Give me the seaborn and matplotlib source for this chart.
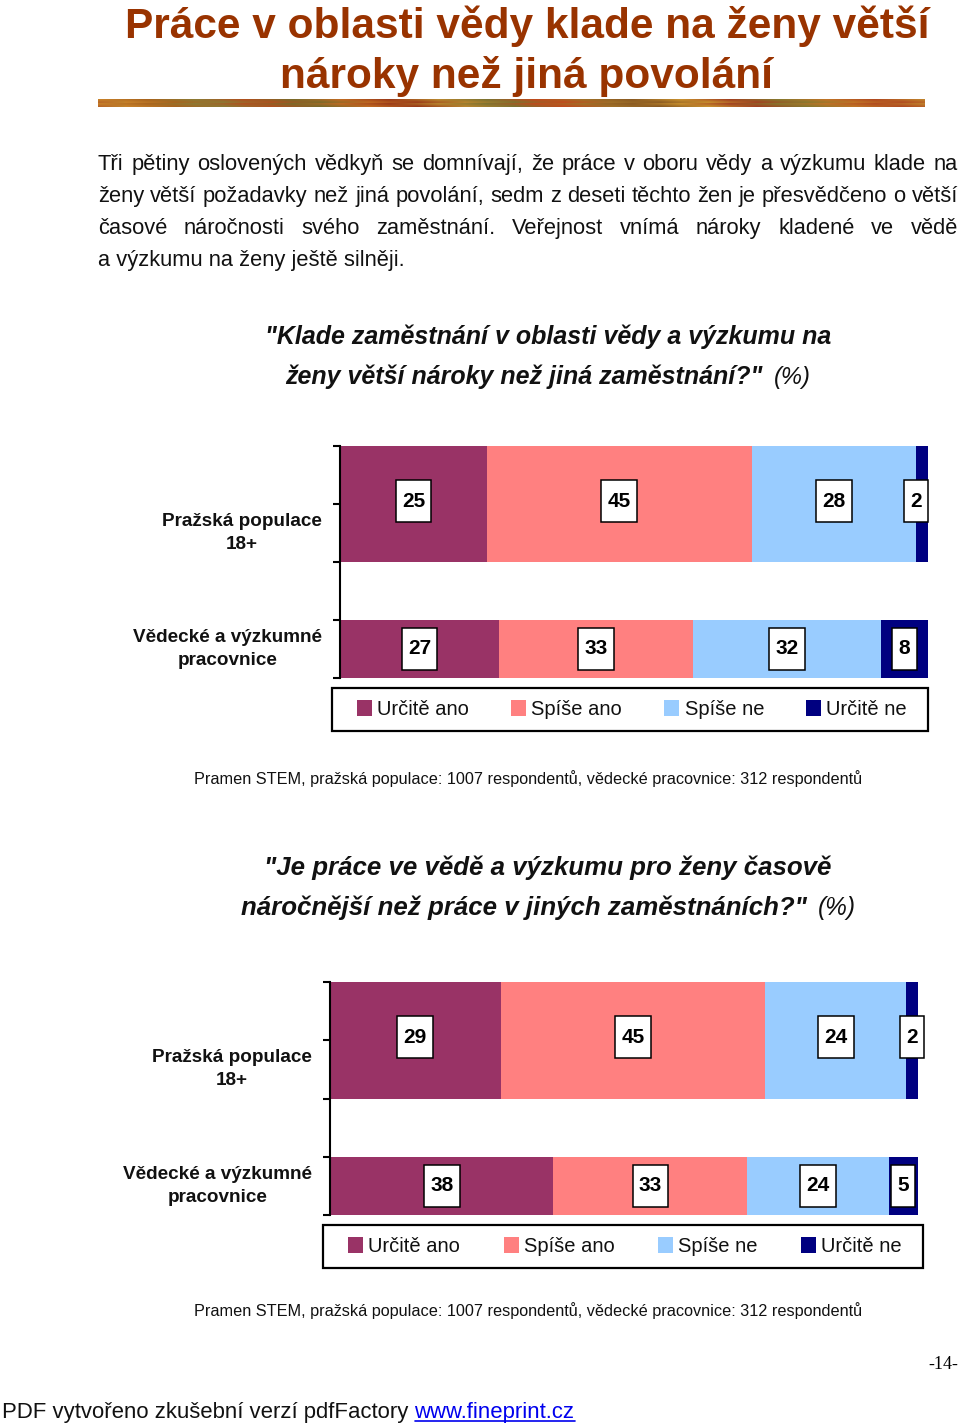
import numpy as np
import pandas as pd
import matplotlib
matplotlib.use("Agg")
import matplotlib.pyplot as plt
from matplotlib.patches import Patch, Rectangle
from matplotlib.lines import Line2D
from matplotlib.path import Path
from matplotlib.colors import to_rgb
import seaborn as sns

# ---------------- data ----------------
groups = ["Pražská populace\n18+", "Vědecké a výzkumné\npracovnice"]
answers = ["Určitě ano", "Spíše ano", "Spíše ne", "Určitě ne"]
q1_praha = [25, 45, 28, 2]
q1_vedkyne = [27, 33, 32, 8]
q2_praha = [29, 45, 24, 2]
q2_vedkyne = [38, 33, 24, 5]
colors = ["#993366", "#FF8080", "#99CCFF", "#000080"]

title_lines = ["Práce v oblasti vědy klade na ženy větší", "nároky než jiná povolání"]
body_lines = [
    "Tři pětiny oslovených vědkyň se domnívají, že práce v oboru vědy a výzkumu klade na",
    "ženy větší požadavky než jiná povolání, sedm z deseti těchto žen je přesvědčeno o větší",
    "časové náročnosti svého zaměstnání. Veřejnost vnímá nároky kladené ve vědě",
    "a výzkumu na ženy ještě silněji.",
]
q1_lines = ["\"Klade zaměstnání v oblasti vědy a výzkumu na", "ženy větší nároky než jiná zaměstnání?\""]
q2_lines = ["\"Je práce ve vědě a výzkumu pro ženy časově", "náročnější než práce v jiných zaměstnáních?\""]
source_text = "Pramen STEM, pražská populace: 1007 respondentů, vědecké pracovnice: 312 respondentů"

W, H = 960, 1427
sns.set_theme(style="white")
plt.rcParams['font.family'] = ['Liberation Sans', 'DejaVu Sans']

fig = plt.figure(figsize=(W / 100, H / 100), dpi=100)
fig.patch.set_facecolor("white")
renderer = fig.canvas.get_renderer()


def fx(px):
    return px / W


def fy(py):
    return 1 - py / H


def width_of(t):
    return t.get_window_extent(renderer).width


def fit(t, target):
    w = width_of(t)
    t.set_fontsize(t.get_fontsize() * target / w)
    return t.get_fontsize()


def label_box(x0, y0, width, height, mutation_size):
    px = 0.30 * mutation_size
    py = 0.55 * mutation_size
    verts = [(x0 - px, y0 - py), (x0 + width + px, y0 - py),
             (x0 + width + px, y0 + height + py), (x0 - px, y0 + height + py),
             (x0 - px, y0 - py)]
    return Path(verts, closed=True)


# ---------------- title ----------------
tcol = "#993300"
t1 = fig.text(fx(527), fy(38), title_lines[0], ha="center", va="baseline",
              fontsize=32, fontweight="bold", color=tcol)
tsize = fit(t1, 805)
fig.text(fx(527), fy(88), title_lines[1], ha="center", va="baseline",
         fontsize=tsize, fontweight="bold", color=tcol)

# decorative stripe under the title
anchors = ['#c8822a', '#a8641e', '#8c7a34', '#b0501e', '#7a6a2a', '#c06a22', '#9a3a18',
           '#b8862e', '#7c7230', '#c04a1c', '#a07028', '#8a5a22', '#c8902e', '#a24020',
           '#86782e', '#c07426', '#b04a20', '#c0822c']
anc = np.array([to_rgb(c) for c in anchors])
n = 400
xs = np.linspace(0, len(anc) - 1, n)
row = np.stack([np.interp(xs, np.arange(len(anc)), anc[:, i]) for i in range(3)], axis=1)
row2 = np.roll(row, 13, axis=0)
strip = np.stack([row, 0.5 * (row + row2), row2, row, 0.5 * (row + row2), row2], axis=0)
sax = fig.add_axes([fx(98), fy(107), fx(925) - fx(98), 8 / H])
sax.imshow(strip, aspect="auto", interpolation="bilinear")
sax.axis("off")

# ---------------- body text (justified) ----------------
probe = fig.text(0, 0, body_lines[3], fontsize=15)
bsize = fit(probe, 307)
probe.remove()
body_y = [170, 202, 234, 266]
for i, line in enumerate(body_lines):
    if i < 3:
        words = line.split(" ")
        texts = [fig.text(0, fy(body_y[i]), w, fontsize=bsize, va="baseline", color="#111111") for w in words]
        widths = [width_of(t) for t in texts]
        gap = (958 - 98 - sum(widths)) / (len(words) - 1)
        x = 98
        for t, w in zip(texts, widths):
            t.set_x(fx(x))
            x += w + gap
    else:
        fig.text(fx(98), fy(body_y[i]), line, fontsize=bsize, va="baseline", color="#111111")


# ---------------- question headings ----------------
def heading(lines, y1, y2, cx=548):
    a = fig.text(fx(cx), fy(y1), lines[0], ha="center", va="baseline",
                 fontsize=16, fontweight="bold", fontstyle="italic", color="#111111")
    hs = fit(a, 567)
    b = fig.text(0, fy(y2), lines[1], ha="left", va="baseline",
                 fontsize=hs, fontweight="bold", fontstyle="italic", color="#111111")
    c = fig.text(0, fy(y2), "(%)", ha="left", va="baseline",
                 fontsize=hs * 0.95, fontstyle="italic", color="#111111")
    wb, wc = width_of(b), width_of(c)
    gap = 11
    x0 = cx - (wb + gap + wc) / 2
    b.set_x(fx(x0))
    c.set_x(fx(x0 + wb + gap))


heading(q1_lines, 344, 384)
heading(q2_lines, 875, 915)


# ---------------- charts ----------------
def draw_chart(left, top, bottom, rows, frame_box, leg_inner, src_y, xmax_label):
    ax = fig.add_axes([fx(left), fy(bottom), 588 / W, (bottom - top) / H])
    df = pd.DataFrame(rows, index=groups, columns=answers)
    cum = df.cumsum(axis=1)
    for k in reversed(range(len(answers))):
        sns.barplot(x=cum[answers[k]].values, y=list(df.index), orient="h",
                    color=colors[k], saturation=1, width=0.8, linewidth=0,
                    edgecolor="none", ax=ax)
    # rows: first category occupies 0..2, second 3..4 of the value axis
    spans = {0: (0, 2), 1: (3, 1)}
    for p in ax.patches:
        idx = int(round(p.get_y() + p.get_height() / 2))
        y0, h = spans[idx]
        p.set_y(y0)
        p.set_height(h)
    ax.set_xlim(0, 100)
    ax.set_ylim(4, 0)
    ax.set_yticks([0, 1, 2, 3, 4], labels=[""] * 5)
    ax.set_xticks([])
    ax.set_xlabel("")
    ax.set_ylabel("")
    for s in ["top", "right", "bottom"]:
        ax.spines[s].set_visible(False)
    ax.spines["left"].set_color("black")
    ax.spines["left"].set_linewidth(1.5)
    ax.tick_params(axis="y", left=True, length=5, width=1.5, color="black", direction="out")
    ax.grid(False)

    centers_y = [0.95, 3.5]
    for r, g in enumerate(df.index):
        vals = df.loc[g].values
        cs = cum.loc[g].values
        for v, c in zip(vals, cs):
            xc = min(c - v / 2, xmax_label)
            ax.text(xc, centers_y[r], str(v), ha="center", va="center",
                    fontsize=15, fontweight="bold", color="black", clip_on=False,
                    bbox=dict(boxstyle=label_box, fc="white", ec="black", lw=1.1))
    # category labels
    lab_off = 18 / 588 * 100
    la = ax.text(-lab_off, 1.5, "Pražská populace", fontsize=13, fontweight="bold")
    lsize = fit(la, 159)
    la.remove()
    for r, g in enumerate(df.index):
        ax.text(-lab_off, [1.5, 3.5][r], g, ha="right", va="center", multialignment="center",
                fontsize=lsize, fontweight="bold", color="#111111", linespacing=1.45, clip_on=False)

    # legend: frame drawn as a rectangle, entries spread inside it
    fx0, fx1, fy0, fy1 = frame_box
    fig.add_artist(Rectangle((fx(fx0), fy(fy1)), (fx1 - fx0) / W, (fy1 - fy0) / H,
                             transform=fig.transFigure, fill=False, ec="black", lw=1.6))
    handles = [Patch(facecolor=c, edgecolor="none") for c in colors]
    ix0, ix1 = leg_inner
    leg = fig.legend(handles, answers, loc="center",
                     bbox_to_anchor=(fx(ix0), fy(fy1), (ix1 - ix0) / W, (fy1 - fy0) / H),
                     bbox_transform=fig.transFigure, ncol=4, mode="expand",
                     frameon=False, fontsize=14.5, handlelength=0.75, handleheight=0.85,
                     handletextpad=0.25, borderpad=0, borderaxespad=0, columnspacing=1.0)
    for t in leg.get_texts():
        t.set_color("#111111")

    st = fig.text(fx(528), fy(src_y), source_text, ha="center", va="baseline", fontsize=11.5, color="#111111")
    fit(st, 668)


draw_chart(340, 446, 678, [q1_praha, q1_vedkyne], (332, 928, 688, 731), (357, 907), 784, 97.9)
draw_chart(330, 982, 1215, [q2_praha, q2_vedkyne], (323, 923, 1225, 1268), (348, 902), 1316, 99.0)

# ---------------- footer ----------------
fig.text(fx(958), fy(1369), "-14-", ha="right", va="baseline", fontsize=13,
         family=["Liberation Serif", "DejaVu Serif"], color="black")
f1 = fig.text(fx(2), fy(1418), "PDF vytvořeno zkušební verzí pdfFactory ", va="baseline",
              fontsize=14.5, color="#111111")
f2 = fig.text(0, fy(1418), "www.fineprint.cz", va="baseline", fontsize=14.5, color="#0000ee")
w1, w2 = width_of(f1), width_of(f2)
scale = 573 / (w1 + w2)
f1.set_fontsize(14.5 * scale)
f2.set_fontsize(14.5 * scale)
w1, w2 = width_of(f1), width_of(f2)
f2.set_x(fx(2 + w1))
fig.add_artist(Line2D([fx(2 + w1), fx(2 + w1 + w2)], [fy(1421), fy(1421)],
                      transform=fig.transFigure, color="#0000ee", lw=1.2))

fig.savefig("out.png", dpi=100, facecolor="white")
